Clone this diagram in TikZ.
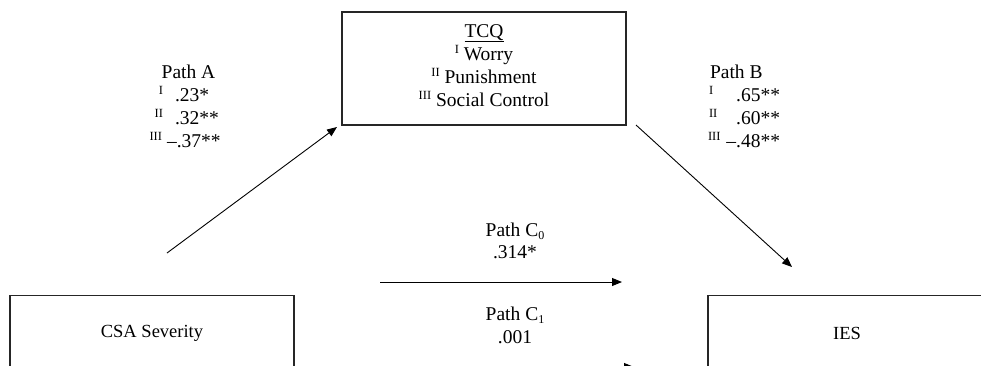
\documentclass[tikz,border=0pt]{standalone}
\usepackage{fontspec}
\setmainfont{Liberation Serif}
\usetikzlibrary{arrows.meta}
\newcommand\rnum[1]{\raisebox{7pt}{\fontsize{12.5}{10}\selectfont #1}}
\newcommand\subdig[1]{\raisebox{-3pt}{\fontsize{12}{10}\selectfont #1}}
\begin{document}
\begin{tikzpicture}[x=1pt,y=-1pt,
  every node/.style={font=\fontsize{19.5}{23}\selectfont, inner sep=0pt, outer sep=0pt},
  boxtext/.style={font=\fontsize{18.5}{23}\selectfont},
  box/.style={draw=black!85, line width=1.1pt},
  arr/.style={line width=0.9pt, -{Triangle[length=10pt,width=8pt]}}]
\useasboundingbox (0,0) rectangle (981,365);
\clip (0,0) rectangle (981,365);
% boxes
\node[box, minimum width=284pt, minimum height=113pt] (tcq) at (484,68.5) {};
\node[box, boxtext, minimum width=284pt, minimum height=76pt] (csa) at (152,333.5) {CSA Severity};
\node[box, boxtext, minimum width=278pt, minimum height=76pt] (ies) at (847,333.5) {IES};
% TCQ text
\node[anchor=base] (tcqa) at (484,37) {\underline{TCQ}};
\node[anchor=base] (tcqb) at (484,60) {\rnum{I} Worry};
\node[anchor=base] (tcqc) at (484,83) {\rnum{II} Punishment};
\node[anchor=base] (tcqd) at (484,106) {\rnum{III} Social Control};
% Path A
\node[anchor=base] (pa0) at (188.5,78) {Path A};
\node[anchor=base west] (pa1) at (150,101) {\makebox[13pt][r]{\rnum{I}}\hspace{12pt}.23*};
\node[anchor=base west] (pa2) at (150,124) {\makebox[13pt][r]{\rnum{II}}\hspace{12pt}.32**};
\node[anchor=base west] (pa3) at (149,147) {\makebox[13pt][r]{\rnum{III}}\hspace{5pt}–.37**};
% Path B
\node[anchor=base west] (pb0) at (710,78) {Path B};
\node[anchor=base west] (pb1) at (709,101) {\makebox[71pt]{\rnum{I}\hfill.65**}};
\node[anchor=base west] (pb2) at (709,124) {\makebox[71pt]{\rnum{II}\hfill.60**}};
\node[anchor=base west] (pb3) at (708,147) {\makebox[72pt]{\rnum{III}\hfill–.48**}};
% Path C
\node[anchor=base] (pc0) at (515,236) {Path C\subdig{0}};
\node[anchor=base] (pc0v) at (515,258) {.314*};
\node[anchor=base] (pc1) at (515,320) {Path C\subdig{1}};
\node[anchor=base] (pc1v) at (515,343) {.001};
% arrows
\coordinate (as) at (167,253);
\coordinate (ae) at (337,127);
\coordinate (bs) at (636,125);
\coordinate (be) at (792,267);
\coordinate (c0s) at (380,282);
\coordinate (c0e) at (622,282);
\coordinate (c1s) at (380,367);
\coordinate (c1e) at (634,367);
\draw[arr] (as) -- (ae);
\draw[arr] (bs) -- (be);
\draw[arr] (c0s) -- (c0e);
\draw[arr] (c1s) -- (c1e);
\end{tikzpicture}
\end{document}
